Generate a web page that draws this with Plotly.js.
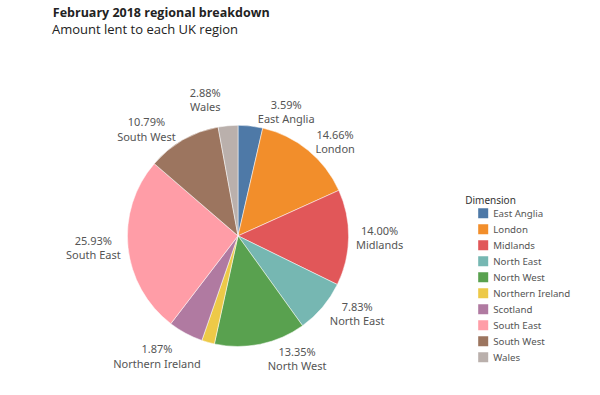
<!DOCTYPE html>
<html><head><meta charset="utf-8">
<script src="https://cdn.plot.ly/plotly-3.0.1.min.js"></script>
<style>html,body{margin:0;padding:0;background:#fff;}#chart{width:600px;height:395px;}</style>
</head><body><div id="chart"></div>
<script>
const regions = ["East Anglia","London","Midlands","North East","North West","Northern Ireland","Scotland","South East","South West","Wales"];
const shares = [3.59,14.66,14.00,7.83,13.35,1.87,5.10,25.93,10.79,2.88];
const showLabel = [true,true,true,true,true,true,false,true,true,true];
const colors = ["#4e79a7","#f28e2b","#e15759","#76b7b2","#59a14f","#edc948","#b07aa1","#ff9da7","#9c755f","#bab0ac"];
const chartTitle = "February 2018 regional breakdown";
const chartSubtitle = "Amount lent to each UK region";

const labelText = regions.map((r,i)=> showLabel[i] ? shares[i].toFixed(2)+"%<br>"+r : "");

const data = [{
  type:"pie",
  labels: regions,
  values: shares,
  text: labelText,
  textinfo:"text",
  textposition:"outside",
  sort:false,
  direction:"clockwise",
  rotation:0,
  marker:{colors:colors, line:{color:"#fff", width:0.5}},
  textfont:{family:"'Noto Sans', sans-serif", size:11, color:"#555"},
  domain:{x:[0.1967,0.5967], y:[0.0482,0.6558]},
  hoverinfo:"label+percent",
  automargin:false
}];

const layout = {
  width:600, height:395,
  margin:{l:0,r:0,t:0,b:0},
  paper_bgcolor:"#fff",
  font:{family:"'Open Sans', sans-serif", color:"#333"},
  title:{
    text:"<b>"+chartTitle+"</b>",
    font:{size:12.5, color:"#222", family:"'Open Sans', sans-serif"},
    x:0.088, xanchor:"left", xref:"paper", y:1-14/395, yanchor:"middle", yref:"paper"
  },
  annotations:[{
    text: chartSubtitle, showarrow:false,
    xref:"paper", yref:"paper", x:0.083, xanchor:"left", y:1-31/395, yanchor:"middle",
    font:{size:13, color:"#222", family:"'Open Sans', sans-serif"}
  }],
  showlegend:true,
  legend:{
    x:0.772, xanchor:"left", y:0.5, yanchor:"top",
    title:{text:"Dimension", font:{size:10, color:"#333"}},
    font:{size:9.7, color:"#555", family:"'Noto Sans', sans-serif"},
    itemsizing:"constant",
    tracegroupgap:0
  }
};
Plotly.newPlot("chart", data, layout, {displayModeBar:false, staticPlot:true}).then(function(gd){
  // Tableau-style legend: tighter rows, small swatch-to-text gap
  gd.querySelectorAll(".legend .traces").forEach(function(g){
    const t = g.getAttribute("transform") || "";
    const m = t.match(/translate\(([-\d.]+)[ ,]+([-\d.]+)\)/);
    if(m){
      const x = parseFloat(m[1]), y = parseFloat(m[2]);
      g.setAttribute("transform","translate("+x+","+(y*16/19 + 8)+")");
    }
    const txt = g.querySelector(".legendtext");
    if(txt){ txt.setAttribute("x", parseFloat(txt.getAttribute("x")) - 10); }
  });
  const lt = gd.querySelector(".legend .legendtitletext");
  if(lt){ lt.setAttribute("y", parseFloat(lt.getAttribute("y")||0) + 9); }
  // Tableau labels have no leader lines
  gd.querySelectorAll("path.textline").forEach(function(p){ p.style.display = "none"; });
});
</script></body></html>
